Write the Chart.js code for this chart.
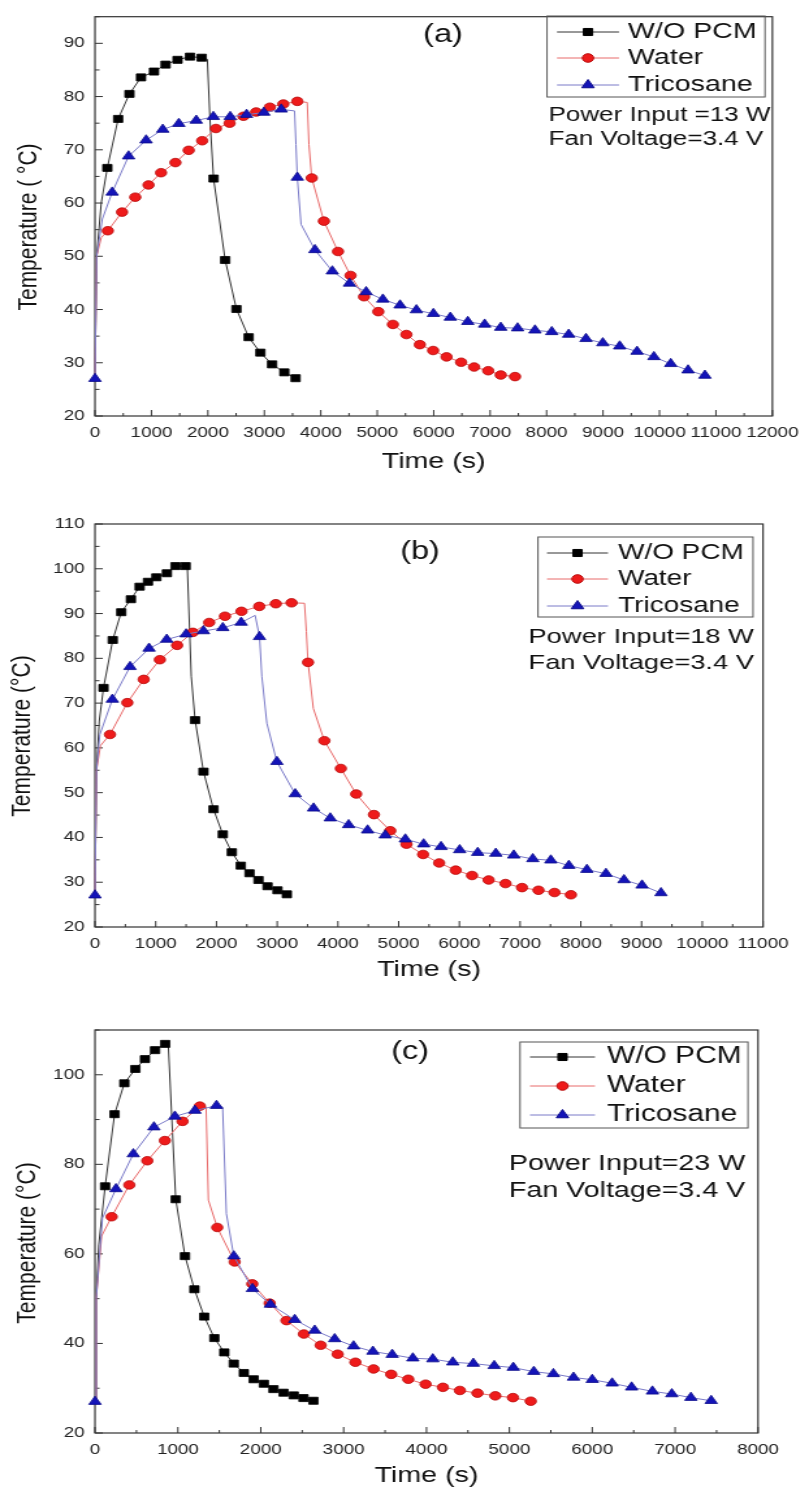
<!DOCTYPE html>
<html lang="en">
<head>
  <meta charset="UTF-8" />
  <title>Heat sink temperature vs time</title>
  <script src="https://cdn.jsdelivr.net/npm/chart.js"></script>
  <style>
    html, body {
      margin: 0;
      padding: 0;
      background: #fff;
    }
    body {
      position: relative;
      width: 809px;
      height: 1490px;
      overflow: hidden;
    }
    canvas.panel {
      position: absolute;
      left: 0;
    }
  </style>
</head>
<body>

  <canvas id="chartA" class="panel"></canvas>
  <canvas id="chartB" class="panel"></canvas>
  <canvas id="chartC" class="panel"></canvas>

  <script>
    // ---- measured series: [time (s), temperature (°C)] ----
    // *Pts  = samples drawn with a marker
    // *Line = extra samples that only shape the connecting line

    // (a) 13 W
    const aNoPcmPts = [[218,66.6],[410,75.8],[610,80.5],[815,83.6],[1045,84.7],[1250,86.0],[1462,86.9],[1683,87.5],[1890,87.3],
      [2100,64.6],[2306,49.3],[2505,40.1],[2722,34.8],[2930,31.9],[3137,29.7],[3354,28.2],[3553,27.1]];
    const aNoPcmLine = [[0,27],[30,50],[110,60],[1990,87.0],[2035,76]];

    const aWaterPts = [[227,54.8],[479,58.3],[713,61.1],[948,63.4],[1170,65.7],[1425,67.6],[1660,69.9],[1898,71.7],[2142,74.0],
      [2385,75.0],[2630,76.3],[2854,77.1],[3097,78.0],[3336,78.6],[3584,79.1],[3840,64.7],[4055,56.6],[4305,50.9],[4527,46.4],
      [4766,42.4],[5019,39.6],[5277,37.2],[5516,35.3],[5755,33.4],[5990,32.3],[6228,31.1],[6486,30.1],[6716,29.2],[6966,28.5],
      [7188,27.7],[7441,27.4]];
    const aWaterLine = [[0,27],[30,50],[110,53.5],[3760,78.9],[3790,71]];

    const aTricPts = [[0,27.0],[304,62.0],[595,68.8],[905,71.8],[1200,73.8],[1485,74.9],[1794,75.5],[2096,76.2],[2395,76.2],
      [2685,76.6],[2991,77.0],[3299,77.6],[3584,64.8],[3896,51.2],[4204,47.2],[4508,44.9],[4803,43.3],[5099,41.9],[5404,40.8],
      [5694,39.9],[5995,39.2],[6295,38.5],[6604,37.7],[6903,37.2],[7188,36.6],[7486,36.5],[7794,36.1],[8092,35.8],[8391,35.3],
      [8698,34.5],[8996,33.7],[9295,33.1],[9602,32.1],[9901,31.1],[10199,29.8],[10506,28.6],[10805,27.6]];
    const aTricLine = [[30,50],[130,57],[3535,77.3],[3560,71],[3650,56]];

    // (b) 18 W
    const bNoPcmPts = [[140,73.4],[292,84.1],[432,90.3],[591,93.2],[735,96.0],[872,97.1],[1010,98.1],[1184,99.0],[1326,100.6],
      [1492,100.6],[1648,66.2],[1786,54.7],[1951,46.3],[2104,40.7],[2253,36.7],[2401,33.7],[2544,32.0],[2692,30.5],[2841,29.1],
      [3005,28.2],[3159,27.3]];
    const bNoPcmLine = [[0,27],[25,55],[70,66],[1520,100.4],[1585,76]];

    const bWaterPts = [[247,63.0],[532,70.1],[802,75.3],[1068,79.7],[1352,82.9],[1610,85.8],[1880,88.0],[2140,89.4],[2412,90.5],
      [2705,91.6],[2977,92.2],[3237,92.4],[3508,79.1],[3777,61.6],[4048,55.4],[4301,49.7],[4593,45.1],[4862,41.5],[5129,38.5],
      [5402,36.2],[5667,34.3],[5940,32.7],[6209,31.5],[6482,30.5],[6760,29.7],[7031,28.8],[7303,28.2],[7566,27.7],[7837,27.2]];
    const bWaterLine = [[0,27],[25,55],[90,60.5],[3450,92.3],[3480,86],[3595,68.8]];

    const bTricPts = [[0,27.1],[286,70.8],[577,78.1],[890,82.2],[1181,84.2],[1500,85.4],[1786,86.1],[2104,86.8],[2407,88.0],
      [2709,84.8],[2995,56.9],[3297,49.7],[3599,46.5],[3874,44.3],[4176,42.8],[4489,41.6],[4780,40.5],[5110,39.6],[5412,38.5],
      [5698,37.9],[6005,37.2],[6302,36.6],[6600,36.4],[6896,36.0],[7209,35.2],[7506,34.9],[7803,33.7],[8100,32.8],[8414,31.9],
      [8711,30.5],[9008,29.3],[9320,27.6]];
    const bTricLine = [[25,55],[80,63],[2637,89.6],[2747,76],[2830,65.5]];

    // (c) 23 W
    const cNoPcmPts = [[122,75.1],[236,91.2],[354,98.1],[487,101.3],[603,103.5],[725,105.5],[847,106.9],[974,72.2],[1086,59.5],
      [1199,52.1],[1318,46.0],[1440,41.2],[1560,38.0],[1674,35.5],[1796,33.4],[1914,32.0],[2037,31.0],[2153,29.8],[2275,29.0],
      [2398,28.4],[2516,27.8],[2636,27.2]];
    const cNoPcmLine = [[0,27],[15,50],[45,62],[884,106.8]];

    const cWaterPts = [[201,68.3],[414,75.4],[631,80.8],[843,85.3],[1056,89.6],[1265,93.0],[1475,65.9],[1685,58.2],[1898,53.3],
      [2108,49.0],[2310,45.1],[2520,42.1],[2723,39.6],[2928,37.6],[3142,35.8],[3361,34.3],[3574,33.1],[3780,32.0],[3989,30.9],
      [4198,30.2],[4403,29.5],[4615,28.9],[4830,28.3],[5043,27.9],[5258,27.1]];
    const cWaterLine = [[0,27],[15,50],[80,64],[1340,92.8],[1368,72]];

    const cTricPts = [[0,27.0],[253,74.5],[462,82.3],[711,88.3],[964,90.7],[1205,92.0],[1466,93.1],[1675,59.5],[1900,52.2],
      [2116,48.7],[2410,45.3],[2651,42.9],[2892,41.0],[3120,39.4],[3353,38.2],[3586,37.5],[3835,36.7],[4076,36.5],[4317,35.8],
      [4565,35.5],[4817,35.0],[5047,34.6],[5295,33.7],[5531,33.2],[5774,32.4],[6000,31.9],[6240,31.1],[6475,30.2],[6726,29.3],
      [6960,28.7],[7190,27.9],[7435,27.2]];
    const cTricLine = [[15,50],[90,68],[1540,92.8],[1585,69]];

    // ---- labels ----
    const seriesNames = ['W/O PCM', 'Water', 'Tricosane'];
    const panelTags = ['(a)', '(b)', '(c)'];
    const powerNotes = ['Power Input =13 W', 'Power Input=18 W', 'Power Input=23 W'];
    const fanNote = 'Fan Voltage=3.4 V';
    const yTitles = ['Temperature ( °C)', 'Temperature (°C)', 'Temperature (°C)'];
    const xTitle = 'Time (s)';

    // the figure is laid out 622 px wide and shown stretched to 809 px
    const W = 622;
    const S = 809 / W;

    Chart.defaults.font.family = 'Arial, "Liberation Sans", sans-serif';
    Chart.defaults.color = '#222';

    const seriesStyles = [
      { pointStyle: 'rect',     radius: 5,   fill: '#000',    edge: '#000',    line: '#333',    order: 3 },
      { pointStyle: 'circle',   radius: 4.3, fill: '#ee1b1b', edge: '#b80d0d', line: '#e86a6a', order: 2 },
      { pointStyle: 'triangle', radius: 5.5, fill: '#1414b8', edge: '#0b0b8c', line: '#7a7ac8', order: 1 }
    ];

    const panels = [
      {
        canvas: 'chartA', top: 0, height: 482,
        area: { left: 95, right: 780, top: 10, bottom: 416 },
        xMax: 12000, yMax: 95, yStep: 10,
        pts: [aNoPcmPts, aWaterPts, aTricPts], lines: [aNoPcmLine, aWaterLine, aTricLine],
        legend: { box: [547, 16, 765, 97], rows: [32, 58, 85], line: [557, 619], textX: 628, font: 22 },
        tagPos: [443, 35], notes: { x: 548.5, ys: [115, 139], font: 20 }, yTitlePos: [29, 227]
      },
      {
        canvas: 'chartB', top: 490, height: 500,
        area: { left: 95, right: 763, top: 524, bottom: 927 },
        xMax: 11000, yMax: 110, yStep: 10,
        pts: [bNoPcmPts, bWaterPts, bTricPts], lines: [bNoPcmLine, bWaterLine, bTricLine],
        legend: { box: [538, 537, 753, 617], rows: [553, 579, 606], line: [547, 608], textX: 618, font: 21.5 },
        tagPos: [420, 552], notes: { x: 528.5, ys: [637, 663], font: 21 }, yTitlePos: [23, 736]
      },
      {
        canvas: 'chartC', top: 995, height: 501,
        area: { left: 95, right: 758, top: 1030, bottom: 1433 },
        xMax: 8000, yMax: 110, yStep: 20,
        pts: [cNoPcmPts, cWaterPts, cTricPts], lines: [cNoPcmLine, cWaterLine, cTricLine],
        legend: { box: [520, 1042, 748, 1128], rows: [1057, 1086, 1115], line: [530, 595], textX: 607, font: 23 },
        tagPos: [410, 1052], notes: { x: 509, ys: [1164, 1191], font: 22 }, yTitlePos: [27, 1243]
      }
    ];

    function drawMarker(ctx, style, x, y, r) {
      ctx.beginPath();
      if (style === 'rect') {
        const s = r * Math.SQRT1_2;
        ctx.rect(x - s, y - s, 2 * s, 2 * s);
      } else if (style === 'triangle') {
        const h = r * Math.sin(2 * Math.PI / 3);
        ctx.moveTo(x, y - r);
        ctx.lineTo(x + h, y + r / 2);
        ctx.lineTo(x - h, y + r / 2);
        ctx.closePath();
      } else {
        ctx.arc(x, y, r, 0, Math.PI * 2);
      }
      ctx.fill();
      ctx.stroke();
    }

    // merge marker samples and line-only samples into one time-ordered series
    function buildSeries(pts, line) {
      const marked = pts.map(([x, y]) => ({ x, y, mark: true }));
      const plain = line.map(([x, y]) => ({ x, y, mark: false }));
      return marked.concat(plain).sort((p, q) => p.x - q.x);
    }

    // frame, inward ticks, boxed legend and the text notes
    const figurePlugin = {
      id: 'figure',
      beforeDatasetsDraw(chart, args, o) {
        const { ctx, chartArea: a, scales: { x, y } } = chart;
        ctx.save();
        ctx.strokeStyle = '#333';
        ctx.lineWidth = 1.2;
        ctx.strokeRect(a.left, a.top, a.right - a.left, a.bottom - a.top);

        ctx.lineWidth = 1;
        ctx.beginPath();
        for (let v = x.min; v <= x.max + 1e-6; v += 500) {
          const px = x.getPixelForValue(v);
          const len = v % 1000 === 0 ? 6 : 3;
          ctx.moveTo(px, a.bottom);
          ctx.lineTo(px, a.bottom - len);
        }
        for (let v = y.min; v <= y.max + 1e-6; v += o.yStep / 2) {
          const py = y.getPixelForValue(v);
          const len = (v - y.min) % o.yStep === 0 ? 6 : 3.5;
          ctx.moveTo(a.left, py);
          ctx.lineTo(a.left + len, py);
        }
        ctx.stroke();
        ctx.restore();
      },
      afterDatasetsDraw(chart, args, o) {
        const ctx = chart.ctx;
        const px = v => v / S;
        const py = v => v - o.top;
        const lg = o.legend;
        const font = size => size + 'px Arial, "Liberation Sans", sans-serif';

        ctx.save();
        // legend
        ctx.strokeStyle = '#555';
        ctx.lineWidth = 1;
        ctx.strokeRect(px(lg.box[0]), py(lg.box[1]), px(lg.box[2]) - px(lg.box[0]), lg.box[3] - lg.box[1]);
        ctx.font = font(lg.font);
        ctx.textAlign = 'left';
        ctx.textBaseline = 'middle';
        chart.data.datasets.forEach((ds, i) => {
          const st = seriesStyles[i];
          const yy = py(lg.rows[i]);
          ctx.strokeStyle = st.line;
          ctx.beginPath();
          ctx.moveTo(px(lg.line[0]), yy);
          ctx.lineTo(px(lg.line[1]), yy);
          ctx.stroke();
          ctx.fillStyle = st.fill;
          ctx.strokeStyle = st.edge;
          drawMarker(ctx, st.pointStyle, px((lg.line[0] + lg.line[1]) / 2), yy, st.radius);
          ctx.fillStyle = '#111';
          ctx.fillText(ds.label, px(lg.textX), yy);
        });

        // panel tag
        ctx.font = font(25);
        ctx.textAlign = 'center';
        ctx.fillText(o.tag, px(o.tagPos[0]), py(o.tagPos[1]));

        // operating conditions
        ctx.font = font(o.notes.font);
        ctx.textAlign = 'left';
        ctx.fillText(o.power, px(o.notes.x), py(o.notes.ys[0]));
        ctx.fillText(fanNote, px(o.notes.x), py(o.notes.ys[1]));

        // y axis title
        ctx.font = font(21);
        ctx.textAlign = 'center';
        ctx.translate(px(o.yTitlePos[0]), py(o.yTitlePos[1]));
        ctx.rotate(-Math.PI / 2);
        ctx.fillText(o.yTitle, 0, 0);
        ctx.restore();
      }
    };

    panels.forEach((p, k) => {
      const canvas = document.getElementById(p.canvas);
      canvas.width = W;
      canvas.height = p.height;
      canvas.style.top = p.top + 'px';
      canvas.style.width = '809px';
      canvas.style.height = p.height + 'px';

      const datasets = seriesNames.map((name, i) => {
        const st = seriesStyles[i];
        return {
          label: name,
          data: buildSeries(p.pts[i], p.lines[i]),
          showLine: true,
          tension: 0,
          borderColor: st.line,
          borderWidth: 1,
          pointStyle: st.pointStyle,
          pointRadius: c => (c.raw && c.raw.mark ? st.radius : 0),
          pointBackgroundColor: st.fill,
          pointBorderColor: st.edge,
          pointBorderWidth: 0.8,
          clip: false,
          order: st.order
        };
      });

      new Chart(canvas, {
        type: 'scatter',
        data: { datasets },
        plugins: [figurePlugin],
        options: {
          responsive: false,
          animation: false,
          events: [],
          layout: {
            padding: { left: 0, top: p.area.top - p.top, right: W - p.area.right / S, bottom: 0 }
          },
          plugins: {
            legend: { display: false },
            tooltip: { enabled: false },
            figure: {
              top: p.top, yStep: p.yStep, legend: p.legend,
              tag: panelTags[k], tagPos: p.tagPos,
              power: powerNotes[k], notes: p.notes,
              yTitle: yTitles[k], yTitlePos: p.yTitlePos
            }
          },
          scales: {
            x: {
              type: 'linear',
              min: 0,
              max: p.xMax,
              grid: { display: false, drawTicks: false },
              border: { display: false },
              ticks: {
                stepSize: 1000,
                includeBounds: false,
                autoSkip: false,
                maxRotation: 0,
                padding: 8,
                font: { size: 14.5 },
                callback: v => String(v)
              },
              title: {
                display: true,
                text: xTitle,
                color: '#111',
                font: { size: 22 },
                padding: { top: 0, bottom: 7 }
              },
              afterFit: s => { s.height = p.height - (p.area.bottom - p.top); }
            },
            y: {
              min: 20,
              max: p.yMax,
              grid: { display: false, drawTicks: false },
              border: { display: false },
              ticks: {
                stepSize: p.yStep,
                includeBounds: false,
                autoSkip: false,
                padding: 8,
                font: { size: 14.5 }
              },
              afterFit: s => { s.width = p.area.left / S; }
            }
          }
        }
      });
    });
  </script>
</body>
</html>
